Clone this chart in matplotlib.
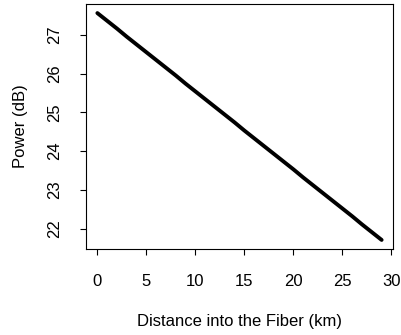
import matplotlib
matplotlib.use("Agg")
import matplotlib.pyplot as plt

distance_km = list(range(0, 30))
power_db = [27.56, 27.36, 27.16, 26.95, 26.75, 26.55, 26.35, 26.15, 25.95, 25.74,
            25.54, 25.34, 25.14, 24.94, 24.74, 24.53, 24.33, 24.13, 23.93, 23.73,
            23.53, 23.32, 23.12, 22.92, 22.72, 22.52, 22.32, 22.11, 21.91, 21.71]
x_ticks = [0, 5, 10, 15, 20, 25, 30]
y_ticks = [22, 23, 24, 25, 26, 27]

plt.rcParams['font.family'] = ['Liberation Sans', 'DejaVu Sans']

fig = plt.figure(figsize=(4.01, 3.35), dpi=100)
ax = fig.add_axes([86/401, 1-249/335, (393-86)/401, (249-4)/335])
ax.plot(distance_km, power_db, color='black', lw=2.8, solid_capstyle='round')

xmin, xmax = min(distance_km), max(distance_km)
ymin, ymax = min(power_db), max(power_db)
dx = (xmax - xmin) * 0.04
dy = (ymax - ymin) * 0.04
ax.set_xlim(xmin - dx, xmax + dx)
ax.set_ylim(ymin - dy, ymax + dy)
ax.set_xticks(x_ticks)
ax.set_yticks(y_ticks)
ax.set_yticklabels([str(v) for v in y_ticks], rotation=90, va='center')
ax.tick_params(direction='out', length=4, width=0.8, labelsize=12, colors='black')
ax.tick_params(axis='x', pad=14)
ax.tick_params(axis='y', pad=13)
for s in ax.spines.values():
    s.set_linewidth(0.8)
ax.set_xlabel('Distance into the Fiber (km)', fontsize=12, labelpad=18)
ax.set_ylabel('Power (dB)', fontsize=12, labelpad=14)

fig.savefig('out.png', dpi=100)
